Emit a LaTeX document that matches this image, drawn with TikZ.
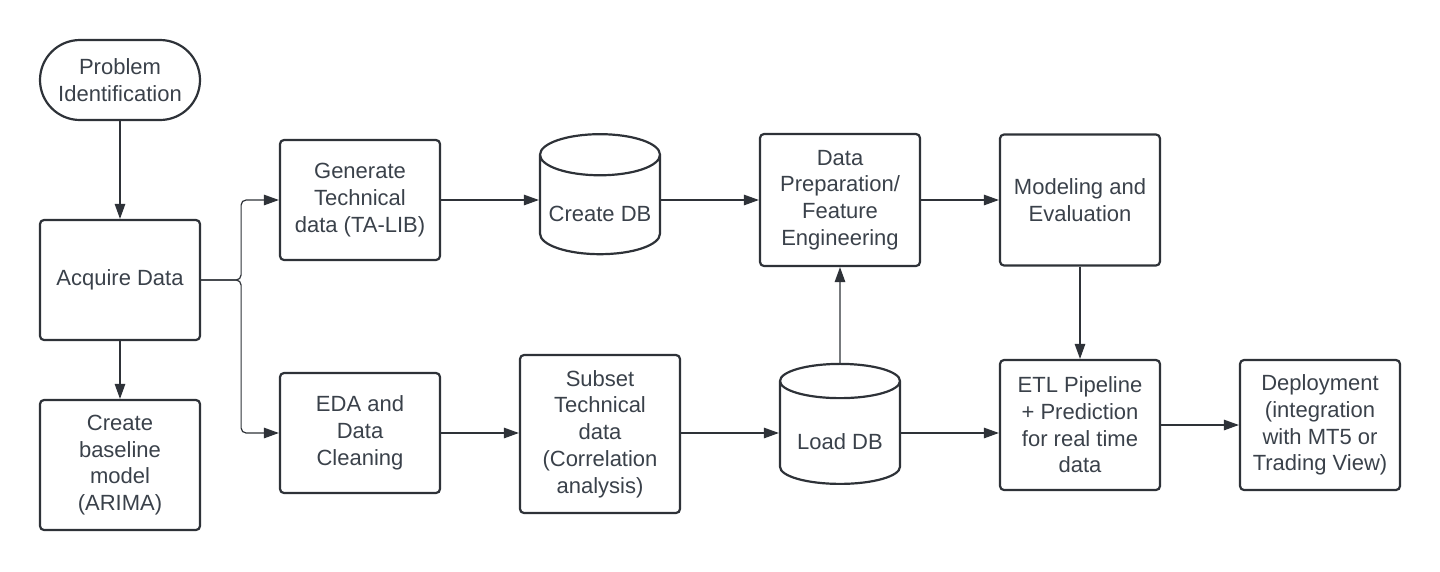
\documentclass[tikz,border=0pt]{standalone}
\usepackage{fontspec}
\setmainfont{Liberation Sans}
\usetikzlibrary{arrows.meta,shapes.geometric}
\definecolor{lineclr}{HTML}{2E3238}
\definecolor{textclr}{HTML}{3A414A}

\begin{document}
\begin{tikzpicture}[x=1pt,y=-1pt]
        \tikzstyle{every node}+=[inner sep=0pt,text=textclr,align=center,font=\fontsize{22}{26.7}\selectfont]
        \tikzstyle{procbox}=[draw=lineclr,line width=2.2pt,rounded corners=4pt,minimum width=160pt]
        \tikzstyle{dbnode}=[draw=lineclr,line width=2.2pt,cylinder,shape border rotate=90,aspect=0.4,minimum width=120pt,minimum height=120pt,text height=34pt]
        \tikzstyle{conn}=[draw=lineclr,line width=1.2pt,-{Triangle[length=15pt,width=10.5pt]}]
        \useasboundingbox (0,0) rectangle (1440,571);
        \node [procbox,rounded corners=40pt,minimum height=80pt] (problem) at (120,80) {Problem\\Identification};
        \node [procbox,minimum height=120pt] (acquire) at (120,280) {Acquire Data};
        \node [procbox,minimum height=130pt] (baseline) at (120,465) {Create\\baseline\\model\\(ARIMA)};
        \node [procbox,minimum height=120pt] (generate) at (360,200) {Generate\\Technical\\data (TA-LIB)};
        \node [procbox,minimum height=120pt] (eda) at (360,433) {EDA and\\Data\\Cleaning};
        \node [dbnode] (createdb) at (600,205) {Create DB};
        \node [procbox,minimum height=158pt] (subset) at (600,434) {Subset\\Technical\\data\\(Correlation\\analysis)};
        \node [procbox,minimum height=132pt] (dataprep) at (840,200) {Data\\Preparation/\\Feature\\Engineering};
        \node [dbnode] (loaddb) at (840,433) {Load DB};
        \node [procbox,minimum height=131pt] (modeling) at (1080,200) {Modeling and\\Evaluation};
        \node [procbox,minimum height=130pt] (etl) at (1080,425) {ETL Pipeline\\+ Prediction\\for real time\\data};
        \node [procbox,minimum height=130pt] (deploy) at (1320,425) {Deployment\\(integration\\with MT5 or\\Trading View)};
        \draw [conn] (problem) -- (acquire);
        \draw [conn] (acquire) -- (baseline);
        \draw [conn,rounded corners=5pt] (acquire.east) -- ++(40,0) |- (generate.west);
        \draw [conn,rounded corners=5pt] (acquire.east) -- ++(40,0) |- (eda.west);
        \draw [conn] (generate.east) -- (generate.east -| createdb.west);
        \draw [conn] (createdb.east |- dataprep.west) -- (dataprep.west);
        \draw [conn] (dataprep) -- (modeling);
        \draw [conn] (modeling) -- (etl);
        \draw [conn] (eda) -- (subset.west |- eda.east);
        \draw [conn] (subset.east |- loaddb.west) -- (loaddb.west);
        \draw [conn] (loaddb.north) -- (dataprep.south);
        \draw [conn] (loaddb.east) -- (loaddb.east -| etl.west);
        \draw [conn] (etl) -- (deploy);
\end{tikzpicture}
\end{document}
